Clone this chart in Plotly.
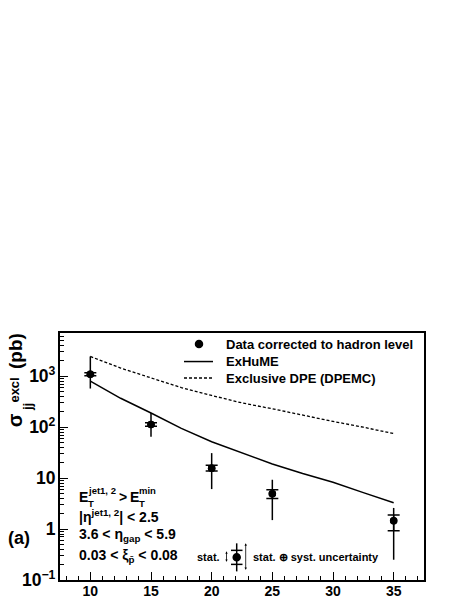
import plotly.graph_objects as go

# measured data points (ET threshold in GeV, cross section in pb)
et = [10, 15, 20, 25, 35]
sigma = [1100, 113, 15.6, 4.95, 1.45]
stat_hi = [1180, 122, 18.0, 5.9, 1.9]
stat_lo = [1020, 104, 13.8, 4.0, 0.93]
tot_hi = [2450, 190, 31, 9.3, 2.6]
tot_lo = [575, 65, 6.1, 1.5, 0.25]

# model curves
et_curve = [10, 12.5, 15, 17.5, 20, 22.5, 25, 27.5, 30, 32.5, 35]
exhume = [800, 370, 190, 95, 52, 31, 19, 12.3, 8.3, 5.2, 3.3]
dpemc = [2450, 1450, 930, 600, 420, 300, 230, 170, 130, 100, 75]

W, H = 463, 599
OFF = 8  # page body margin shifts the figure
PLOT_W, PLOT_H = 364, 246.6
L, T = 60 - OFF, 333 - OFF
R, B = W - L - PLOT_W, H - T - PLOT_H
FONT = "Liberation Sans"


def px(x):
    # screen pixel -> paper fraction
    return (x - OFF - L) / PLOT_W


def py(y):
    return (T + PLOT_H - (y - OFF)) / PLOT_H


fig = go.Figure()

# stat (+) syst: plain vertical bar
fig.add_trace(go.Scatter(
    x=et, y=sigma, mode="markers", showlegend=False,
    marker=dict(color="black", size=7.5),
    error_y=dict(type="data", symmetric=False,
                 array=[h - s for h, s in zip(tot_hi, sigma)],
                 arrayminus=[s - l for s, l in zip(sigma, tot_lo)],
                 color="black", thickness=1.5, width=0),
))
# stat only: short horizontal ticks at the ends
fig.add_trace(go.Scatter(
    x=et, y=sigma, mode="markers", showlegend=False,
    marker=dict(color="black", size=7.5),
    error_y=dict(type="data", symmetric=False,
                 array=[h - s for h, s in zip(stat_hi, sigma)],
                 arrayminus=[s - l for s, l in zip(sigma, stat_lo)],
                 color="black", thickness=1.5, width=6),
))
fig.add_trace(go.Scatter(
    x=et_curve, y=exhume, mode="lines", showlegend=False,
    line=dict(color="black", width=1.5),
))
fig.add_trace(go.Scatter(
    x=et_curve, y=dpemc, mode="lines", showlegend=False,
    line=dict(color="black", width=1.3, dash="3px,2px"),
))

bold = dict(family=FONT, color="black", weight="bold")


def label(x, y, text, size, anchor="left", angle=0):
    return dict(x=px(x), y=py(y), text=text, xanchor=anchor, yanchor="middle",
                textangle=angle, font=dict(size=size, **bold))


annotations = [
    # y-axis title, pieces placed by hand to stack sub/superscript
    label(15, 420, "σ", 20, "center", -90),
    label(14.5, 390, "excl", 13, "center", -90),
    label(27, 407, "jj", 13, "center", -90),
    label(15, 351, "(pb)", 19, "center", -90),
    label(6, 538, "(a)", 18),
    # legend
    label(224, 344, "Data corrected to hadron level", 13),
    label(224, 361.5, "ExHuME", 13),
    label(224, 378, "Exclusive DPE (DPEMC)", 13),
    # cuts
    label(77, 497, "E", 14),
    label(86, 490, "jet1, 2", 9.5),
    label(86, 503.5, "T", 9.5),
    label(117, 497, ">", 14),
    label(128, 497, "E", 14),
    label(137, 490, "min", 9.5),
    label(137, 503.5, "T", 9.5),
    label(77, 516, "|η<sup>jet1, 2</sup>| < 2.5", 14),
    label(77, 535, "3.6 < η<sub>gap</sub> < 5.9", 14),
    label(77, 556, "0.03 < ξ<sub>p̄</sub> < 0.08", 14),
    # uncertainty key
    label(195, 557, "stat.", 11),
    label(251, 557, "stat. ⊕ syst. uncertainty", 11),
]
for xa, y0, y1 in [(226.5, 551, 563), (245.7, 543, 571)]:
    annotations.append(dict(
        x=px(xa), y=py(y0), ax=0, ay=y1 - y0, text="", showarrow=True,
        arrowside="end+start", arrowhead=2, arrowsize=0.6, arrowwidth=0.8,
        arrowcolor="black",
    ))
for a in annotations:
    a.setdefault("xref", "paper")
    a.setdefault("yref", "paper")
    a.setdefault("showarrow", False)

shapes = [
    # legend samples
    dict(type="circle", x0=px(195.5), x1=px(202.5), y0=py(340.5), y1=py(347.5),
         fillcolor="black"),
    dict(type="line", x0=px(184), x1=px(213), y0=py(361.5), y1=py(361.5)),
    dict(type="line", x0=px(184), x1=px(213), y0=py(378), y1=py(378),
         line_dash="3px,2px"),
    # uncertainty key sample
    dict(type="line", x0=px(236.7), x1=px(236.7), y0=py(543), y1=py(571)),
    dict(type="line", x0=px(231), x1=px(242.5), y0=py(550), y1=py(550)),
    dict(type="line", x0=px(231), x1=px(242.5), y0=py(564), y1=py(564)),
    dict(type="circle", x0=px(233.2), x1=px(240.2), y0=py(553.5), y1=py(560.5),
         fillcolor="black"),
]
for s in shapes:
    s.update(xref="paper", yref="paper")
    s["line"] = dict(color="black", width=1.5, dash=s.pop("line_dash", "solid"))

fig.update_layout(
    width=W, height=H,
    margin=dict(l=L, r=R, t=T, b=B),
    paper_bgcolor="white", plot_bgcolor="white",
    font=dict(family=FONT, color="black"),
    showlegend=False,
    annotations=annotations,
    shapes=shapes,
)
fig.update_xaxes(
    range=[7.5, 37.5], dtick=5, showgrid=False, zeroline=False, automargin=False,
    ticks="inside", ticklen=8, tickwidth=1, tickcolor="black",
    minor=dict(dtick=1, ticks="inside", ticklen=4, tickcolor="black"),
    showline=True, linecolor="black", linewidth=1.5, mirror=True,
    tickfont=dict(size=14, **bold), ticklabelstandoff=-3,
)
fig.update_yaxes(
    type="log", range=[-1, 3.85], dtick=1, exponentformat="power",
    showgrid=False, zeroline=False, automargin=False,
    ticks="inside", ticklen=8, tickwidth=1, tickcolor="black",
    minor=dict(ticks="inside", ticklen=4, tickcolor="black"),
    showline=True, linecolor="black", linewidth=1.5, mirror=True,
    tickfont=dict(size=14, **bold),
)

fig.write_html("out.html")
